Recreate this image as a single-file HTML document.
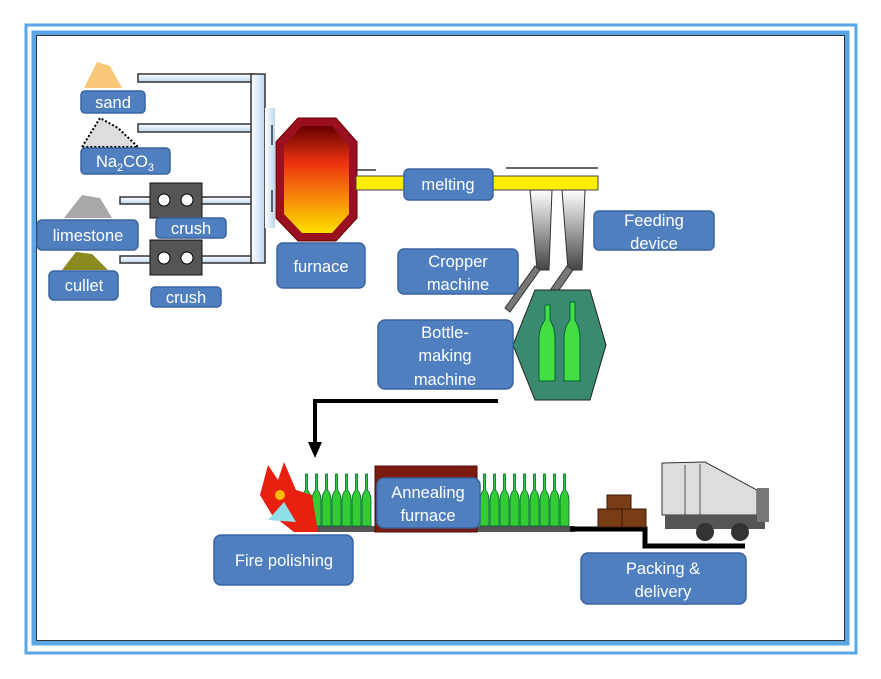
<!DOCTYPE html>
<html><head><meta charset="utf-8"><style>
html,body{margin:0;padding:0;background:#fff;width:881px;height:679px;overflow:hidden}
svg{display:block}
text{font-family:"Liberation Sans",sans-serif;fill:#fff;font-size:16.5px}
</style></head><body>
<svg width="881" height="679" viewBox="0 0 881 679" xmlns="http://www.w3.org/2000/svg">
<defs>
<linearGradient id="fur" x1="0" y1="0" x2="0" y2="1">
<stop offset="0" stop-color="#600"/><stop offset="0.35" stop-color="#e31"/><stop offset="1" stop-color="#ffe000"/></linearGradient>
<linearGradient id="pipe" x1="0" y1="0" x2="0" y2="1"><stop offset="0" stop-color="#fff"/><stop offset="1" stop-color="#bcd7ef"/></linearGradient>
<linearGradient id="pipev" x1="0" y1="0" x2="1" y2="0"><stop offset="0" stop-color="#fff"/><stop offset="1" stop-color="#bcd7ef"/></linearGradient>
<linearGradient id="feed" x1="0" y1="0" x2="0" y2="1"><stop offset="0" stop-color="#fff"/><stop offset="1" stop-color="#444"/></linearGradient>
<g id="b"><path d="M3.5 0 h2 v16 q3.5 4 3.5 10 v26 h-9 v-26 q0 -6 3.5 -10z" fill="#3c3" stroke="#063" stroke-width="0.8"/></g>
</defs>
<rect x="26" y="25" width="830" height="628" fill="none" stroke="#5aa6e6" stroke-width="3"/>
<rect x="34" y="33" width="813" height="610" fill="none" stroke="#5aa6e6" stroke-width="5"/>
<rect x="36.5" y="35.5" width="808" height="605" fill="none" stroke="#333" stroke-width="1"/>

<!-- piles -->
<path d="M84 88 L97 62 L110 66 L122 88Z" fill="#f8c878"/>
<path d="M82 147 L100 118 L118 128 L138 147Z" fill="#ddd" stroke="#000" stroke-dasharray="2 2" stroke-width="2"/>
<path d="M64 218 L82 195 L100 198 L112 218Z" fill="#a8a8a8"/>
<path d="M62 270 L76 252 L92 254 L108 270Z" fill="#8a8a20"/>

<!-- pipes -->
<g stroke="#333" stroke-width="1.5" fill="url(#pipe)">
<rect x="138" y="74" width="116" height="8"/>
<rect x="138" y="124" width="116" height="8"/>
<rect x="120" y="197" width="134" height="7"/>
<rect x="120" y="256" width="134" height="7"/>
<rect x="251" y="74" width="14" height="189" fill="url(#pipev)"/>
</g>
<rect x="265" y="108" width="10" height="120" fill="url(#pipev)"/>
<g stroke="#333" stroke-width="1.5"><line x1="272" y1="125" x2="272" y2="145"/><line x1="272" y1="190" x2="272" y2="212"/></g>
<!-- crushers -->
<rect x="150" y="183" width="52" height="35" fill="#555" stroke="#111"/>
<rect x="150" y="240" width="52" height="35" fill="#555" stroke="#111"/>
<g fill="#fff" stroke="#000"><circle cx="164" cy="200" r="6"/><circle cx="187" cy="200" r="6"/><circle cx="164" cy="258" r="6"/><circle cx="187" cy="258" r="6"/></g>

<!-- furnace -->
<path d="M298 118 L336 118 L357 142 L357 218 L336 241 L298 241 L276 218 L276 142Z" fill="#9a1020" stroke="#600" stroke-width="1"/>
<path d="M302 126 L332 126 L349 146 L349 214 L332 233 L302 233 L284 214 L284 146Z" fill="url(#fur)"/>

<!-- channel -->
<rect x="356" y="176" width="242" height="14" fill="#ffee00" stroke="#444"/>
<line x1="356" y1="170" x2="376" y2="170" stroke="#333" stroke-width="1.5"/>
<line x1="506" y1="168" x2="598" y2="168" stroke="#333" stroke-width="1.5"/>
<!-- feeders -->
<path d="M530 190 L552 190 L549 270 L537 270Z" fill="url(#feed)" stroke="#333"/>
<path d="M562 190 L585 190 L582 270 L568 270Z" fill="url(#feed)" stroke="#333"/>
<path d="M535 266 L540 270 L510 312 L505 308Z" fill="#777" stroke="#333"/>
<path d="M567 266 L573 270 L545 310 L539 306Z" fill="#777" stroke="#333"/>
<!-- hexagon -->
<path d="M535 290 L590 290 L606 345 L590 400 L535 400 L513 345Z" fill="#3a8a72" stroke="#222"/>
<path d="M545 305 h5 v15 q5 8 5 18 v43 h-16 v-43 q0 -10 6 -18z" fill="#4d4" stroke="#063"/>
<path d="M570 302 h5 v18 q5 8 5 18 v43 h-16 v-43 q0 -10 6 -18z" fill="#4d4" stroke="#063"/>

<!-- arrow -->
<path d="M498 401 L315 401 L315 445" fill="none" stroke="#000" stroke-width="4"/>
<path d="M308 442 L322 442 L315 458Z" fill="#000"/>

<!-- conveyor -->
<rect x="300" y="526" width="275" height="6" fill="#555"/>
<rect x="375" y="466" width="102" height="66" fill="#7a1a10" stroke="#4a1008"/>
<g>
<use href="#b" x="302" y="474"/><use href="#b" x="312" y="474"/><use href="#b" x="322" y="474"/><use href="#b" x="332" y="474"/><use href="#b" x="342" y="474"/><use href="#b" x="352" y="474"/><use href="#b" x="362" y="474"/>
<use href="#b" x="480" y="474"/><use href="#b" x="490" y="474"/><use href="#b" x="500" y="474"/><use href="#b" x="510" y="474"/><use href="#b" x="520" y="474"/><use href="#b" x="530" y="474"/><use href="#b" x="540" y="474"/><use href="#b" x="550" y="474"/><use href="#b" x="560" y="474"/>
</g>
<!-- fire -->
<path d="M260 495 L268 465 L278 480 L284 462 L296 490 L312 495 L318 532 L294 532 L272 515Z" fill="#e82010"/>
<path d="M268 520 L284 502 L296 522Z" fill="#8ee0e8"/>
<circle cx="280" cy="495" r="5" fill="#fb0"/>
<!-- packing -->
<path d="M570 529 L645 529 L645 546 L745 546" fill="none" stroke="#000" stroke-width="5"/>
<rect x="607" y="495" width="24" height="14" fill="#7a3c14" stroke="#3a1a08"/>
<rect x="598" y="509" width="24" height="18" fill="#7a3c14" stroke="#3a1a08"/>
<rect x="622" y="509" width="24" height="18" fill="#7a3c14" stroke="#3a1a08"/>
<path d="M662 463 L705 462 L757 490 L757 515 L662 515Z" fill="#ddd" stroke="#333"/>
<line x1="685" y1="465" x2="685" y2="515" stroke="#555"/><line x1="700" y1="464" x2="700" y2="515" stroke="#555"/>
<rect x="665" y="515" width="100" height="14" fill="#555"/>
<circle cx="705" cy="532" r="9" fill="#333"/><circle cx="740" cy="532" r="9" fill="#333"/>
<rect x="757" y="488" width="12" height="34" fill="#777"/>

<!-- labels -->
<g fill="#4f7fbe" stroke="#3a63a0" stroke-width="1.5">
<rect x="81" y="91" width="64" height="22" rx="4"/>
<rect x="81" y="148" width="89" height="26" rx="4"/>
<rect x="37" y="220" width="101" height="30" rx="5"/>
<rect x="156" y="218" width="70" height="20" rx="4"/>
<rect x="49" y="271" width="69" height="29" rx="5"/>
<rect x="151" y="287" width="70" height="20" rx="4"/>
<rect x="277" y="243" width="88" height="45" rx="6"/>
<rect x="404" y="169" width="89" height="31" rx="5"/>
<rect x="594" y="211" width="120" height="39" rx="5"/>
<rect x="398" y="249" width="120" height="45" rx="6"/>
<rect x="378" y="320" width="135" height="69" rx="7"/>
<rect x="214" y="535" width="139" height="50" rx="7"/>
<rect x="377" y="478" width="103" height="50" rx="7"/>
<rect x="581" y="553" width="165" height="51" rx="7"/>
</g>
<g text-anchor="middle">
<text x="113" y="108">sand</text>
<text x="125" y="167">Na<tspan font-size="11" dy="4">2</tspan><tspan dy="-4">CO</tspan><tspan font-size="11" dy="4">3</tspan></text>
<text x="88" y="241">limestone</text>
<text x="191" y="234">crush</text>
<text x="84" y="291">cullet</text>
<text x="186" y="303">crush</text>
<text x="321" y="272">furnace</text>
<text x="448" y="190">melting</text>
<text x="654" y="226">Feeding</text><text x="654" y="249">device</text>
<text x="458" y="267">Cropper</text><text x="458" y="290">machine</text>
<text x="445" y="338">Bottle-</text><text x="445" y="361">making</text><text x="445" y="385">machine</text>
<text x="284" y="566">Fire polishing</text>
<text x="428" y="498">Annealing</text><text x="428" y="521">furnace</text>
<text x="663" y="574">Packing &amp;</text><text x="663" y="597">delivery</text>
</g>
</svg>
</body></html>
